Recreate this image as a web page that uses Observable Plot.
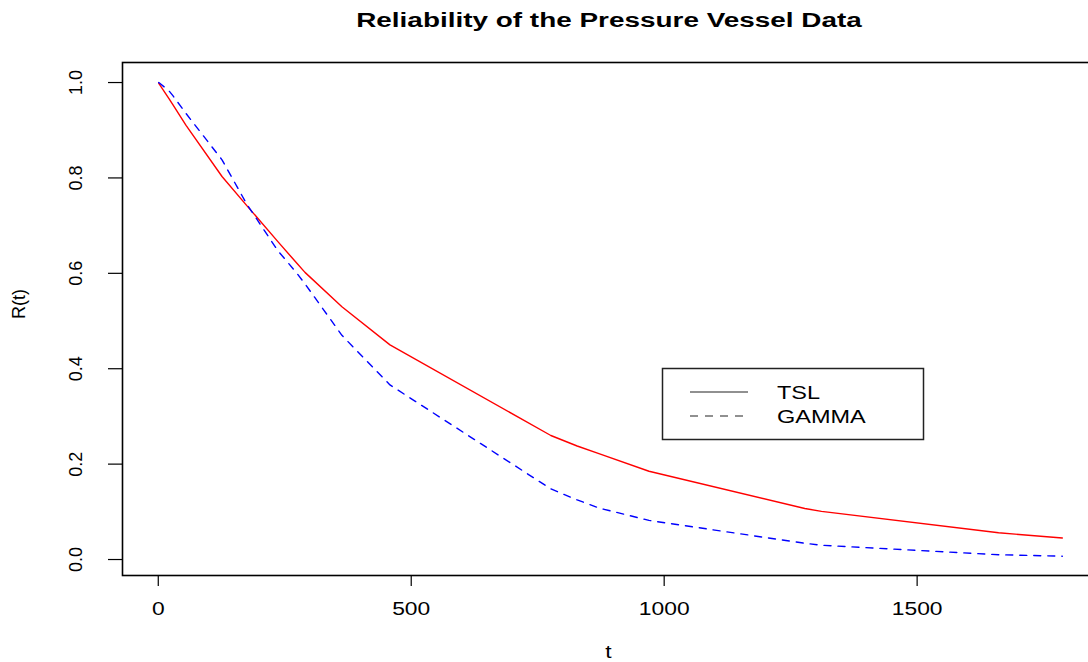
<!DOCTYPE html>
<html>
<head>
<meta charset="utf-8">
<script src="https://cdn.jsdelivr.net/npm/d3@7"></script>
<script src="https://cdn.jsdelivr.net/npm/@observablehq/plot@0.6"></script>
<style>
  body { margin: 0; background: #fff; }
  #chart { width: 1088px; height: 662px; }
</style>
</head>
<body>
<div id="chart"></div>
<script>
// sorted failure times of the pressure vessel data
const tVals = [0.75, 1.7, 20.8, 28.5, 54.9, 126, 175, 236, 274, 290, 363, 458, 776, 828, 871, 970, 1278, 1311, 1661, 1787];
const tslVals = [0.999, 0.997, 0.967, 0.954, 0.91, 0.803, 0.742, 0.667, 0.621, 0.602, 0.53, 0.45, 0.26, 0.238, 0.222, 0.185, 0.107, 0.101, 0.056, 0.045];
const gammaVals = [1.0, 0.9995, 0.983, 0.973, 0.935, 0.838, 0.745, 0.648, 0.6, 0.578, 0.47, 0.366, 0.148, 0.125, 0.108, 0.082, 0.034, 0.03, 0.01, 0.007];
const xTicks = [0, 500, 1000, 1500];
const yTicks = [0, 0.2, 0.4, 0.6, 0.8, 1.0];
const seriesNames = ["TSL", "GAMMA"];
const titleText = "Reliability of the Pressure Vessel Data";

const tslData = tVals.map((t, i) => ({t, R: tslVals[i]}));
const gammaData = tVals.map((t, i) => ({t, R: gammaVals[i]}));

const font = "Liberation Sans, Arial, sans-serif";

const plot = Plot.plot({
    width: 1088,
    height: 662,
    marginTop: 62,
    marginBottom: 87,
    marginLeft: 122,
    marginRight: -10,
    x: {domain: [-70.7, 1858.5]},
    y: {domain: [-0.0335, 1.042]},
    style: {fontFamily: font, background: "white", color: "black"},
    marks: [
        Plot.frame({stroke: "black", strokeWidth: 1.6}),
        Plot.axisX(xTicks, {tickSize: 11, tickPadding: 16, fontSize: 18, strokeWidth: 1.2,
            tickFormat: d => String(d), label: null}),
        Plot.axisY(yTicks, {tickSize: 14, tickFormat: () => "", strokeWidth: 1.2, label: null}),
        Plot.text(yTicks, {y: d => d, text: d => d.toFixed(1), frameAnchor: "left", dx: -46,
            rotate: -90, fontSize: 18, lineAnchor: "middle", textAnchor: "middle"}),
        Plot.line(tslData, {x: "t", y: "R", stroke: "#ff0000", strokeWidth: 1.4}),
        Plot.line(gammaData, {x: "t", y: "R", stroke: "#0000ff", strokeWidth: 1.4, strokeDasharray: "7,7"}),
        Plot.text([titleText], {frameAnchor: "top", dy: -36, dx: -1.5, lineAnchor: "bottom",
            fontSize: 21, fontWeight: "bold"}),
        Plot.text(["t"], {frameAnchor: "bottom", dy: 82, dx: -2, lineAnchor: "bottom", fontSize: 18}),
        Plot.text(["R(t)"], {frameAnchor: "left", dx: -103.5, rotate: -90, lineAnchor: "middle",
            fontSize: 18})
    ]
});

// the reference text is horizontally wide, so stretch the horizontal labels
const xLabels = xTicks.map(String);
d3.select(plot).selectAll("text").each(function () {
    const tr = this.getAttribute("transform") || "";
    if (tr.includes("rotate")) return;
    const s = this.textContent;
    let k = null;
    if (s === titleText) k = 1.33;
    else if (s === "t" || xLabels.includes(s)) k = 1.27;
    if (k) this.setAttribute("transform", tr + ` scale(${k},1)`);
});

// legend box
const svg = d3.select(plot);
const leg = svg.append("g").attr("transform", "translate(662,368)");
leg.append("rect").attr("x", 0.5).attr("y", 0.5).attr("width", 261).attr("height", 71)
    .attr("fill", "white").attr("stroke", "#222").attr("stroke-width", 1.5);
seriesNames.forEach((name, i) => {
    const y = 24 + i * 24;
    leg.append("line").attr("x1", 28).attr("x2", 86).attr("y1", y).attr("y2", y)
        .attr("stroke", "#222").attr("stroke-width", 1.2)
        .attr("stroke-dasharray", i === 0 ? null : "8,7");
    leg.append("text").attr("transform", `translate(115,${y + 7}) scale(1.27,1)`)
        .attr("text-anchor", "start")
        .attr("font-size", 18.5).attr("font-family", font).attr("fill", "black")
        .text(name);
});

document.getElementById("chart").append(plot);
</script>
</body>
</html>
